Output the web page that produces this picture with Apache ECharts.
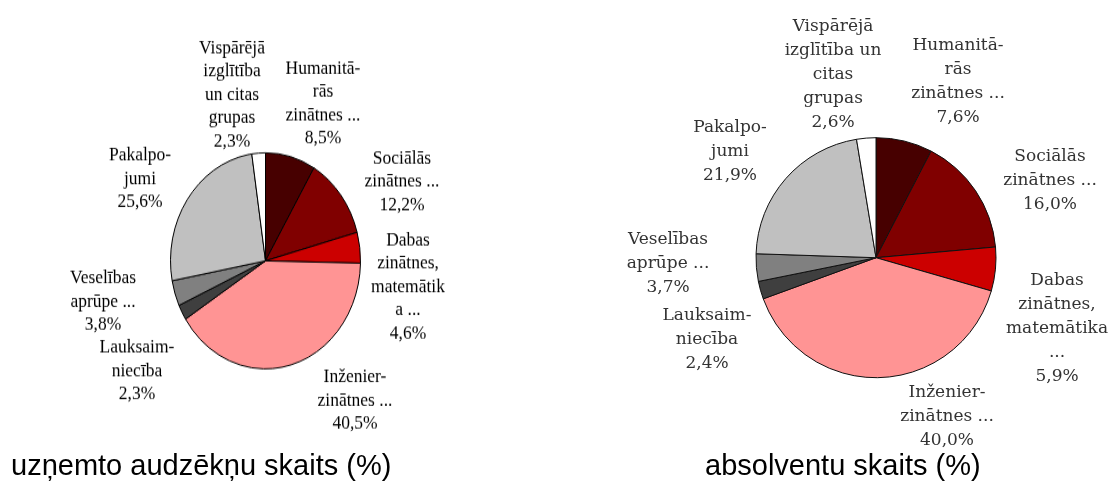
<!DOCTYPE html>
<html>
<head>
<meta charset="utf-8">
<script src="https://cdn.jsdelivr.net/npm/echarts@6/dist/echarts.min.js"></script>
<style>
  html, body { margin: 0; padding: 0; background: #fff; }
  #main { position: absolute; left: 0; top: 0; width: 1110px; height: 482px; }
  #left { position: absolute; left: 0; top: 0; width: 560px; height: 424px;
          transform: scaleY(1.137); transform-origin: 0 0; }
</style>
</head>
<body>
<div id="main"></div>
<div id="left"></div>
<script>
// ---- data ----
const CATEGORIES = ['Humanitārās zinātnes', 'Sociālās zinātnes', 'Dabas zinātnes, matemātika',
  'Inženierzinātnes', 'Lauksaimniecība', 'Veselības aprūpe', 'Pakalpojumi',
  'Vispārējā izglītība un citas grupas'];
const LEFT_LABELS = ['Humanitā-\nrās\nzinātnes ...', 'Sociālās\nzinātnes ...',
  'Dabas\nzinātnes,\nmatemātik\na ...', 'Inženier-\nzinātnes ...', 'Lauksaim-\nniecība',
  'Veselības\naprūpe ...', 'Pakalpo-\njumi', 'Vispārējā\nizglītība\nun citas\ngrupas'];
const RIGHT_LABELS = ['Humanitā-\nrās\nzinātnes ...', 'Sociālās\nzinātnes ...',
  'Dabas\nzinātnes,\nmatemātika\n...', 'Inženier-\nzinātnes ...', 'Lauksaim-\nniecība',
  'Veselības\naprūpe ...', 'Pakalpo-\njumi', 'Vispārējā\nizglītība un\ncitas\ngrupas'];
const ENROLLED = [8.5, 12.2, 4.6, 40.5, 2.3, 3.8, 25.6, 2.3];
const GRADUATES = [7.6, 16.0, 5.9, 40.0, 2.4, 3.7, 21.9, 2.6];
const TITLES = ['uzņemto audzēkņu skaits (%)', 'absolventu skaits (%)'];

// ---- styling / layout ----
const COLORS = ['#470000', '#800000', '#cc0000', '#ff9494', '#3f3f3f', '#808080', '#c0c0c0', '#ffffff'];
const LEFT_LABEL_POS = [[323, 91], [402, 159.6], [408, 252], [355, 352], [137, 326], [103, 265], [140, 157], [232, 83]];
const RIGHT_LABEL_POS = [[958, 82], [1050, 181], [1057, 329], [947, 417], [707, 340], [668, 264], [730, 152], [833, 75]];

function fmt(v) { return v.toFixed(1).replace('.', ',') + '%'; }
function makeData(vals) {
  return vals.map((v, i) => ({ name: CATEGORIES[i], value: v, itemStyle: { color: COLORS[i] } }));
}

const left = echarts.init(document.getElementById('left'), null, { renderer: 'canvas' });
left.setOption({
  animation: false,
  series: [{
    type: 'pie',
    center: [265.5, 229.4],
    radius: [0, 95],
    startAngle: 90,
    clockwise: true,
    avoidLabelOverlap: false,
    data: makeData(ENROLLED),
    itemStyle: { borderColor: '#000', borderWidth: 1 },
    label: {
      show: true,
      formatter: p => LEFT_LABELS[p.dataIndex] + '\n' + fmt(p.value),
      fontFamily: '"Liberation Serif", "Times New Roman", serif',
      fontSize: 17.5,
      lineHeight: 20.5,
      color: '#000',
      align: 'center'
    },
    labelLine: { show: false },
    labelLayout: p => ({ x: LEFT_LABEL_POS[p.dataIndex][0], y: LEFT_LABEL_POS[p.dataIndex][1], align: 'center', verticalAlign: 'middle' }),
    emphasis: { disabled: true }
  }]
});

const main = echarts.init(document.getElementById('main'), null, { renderer: 'canvas' });
main.setOption({
  animation: false,
  backgroundColor: '#fff',
  title: [
    { text: TITLES[0], left: 11, top: 452, padding: 0,
      textStyle: { fontFamily: '"Liberation Sans", Arial, sans-serif', fontSize: 29, fontWeight: 'normal', color: '#000' } },
    { text: TITLES[1], left: 705, top: 452, padding: 0,
      textStyle: { fontFamily: '"Liberation Sans", Arial, sans-serif', fontSize: 29, fontWeight: 'normal', color: '#000' } }
  ],
  series: [{
    type: 'pie',
    center: [876, 257.7],
    radius: [0, 120],
    startAngle: 90,
    clockwise: true,
    avoidLabelOverlap: false,
    data: makeData(GRADUATES),
    itemStyle: { borderColor: '#111', borderWidth: 1 },
    label: {
      show: true,
      formatter: p => RIGHT_LABELS[p.dataIndex] + '\n' + fmt(p.value),
      fontFamily: '"DejaVu Serif", serif',
      fontSize: 17,
      lineHeight: 24,
      color: '#333',
      align: 'center'
    },
    labelLine: { show: false },
    labelLayout: p => ({ x: RIGHT_LABEL_POS[p.dataIndex][0], y: RIGHT_LABEL_POS[p.dataIndex][1], align: 'center', verticalAlign: 'middle' }),
    emphasis: { disabled: true }
  }]
});
</script>
</body>
</html>
